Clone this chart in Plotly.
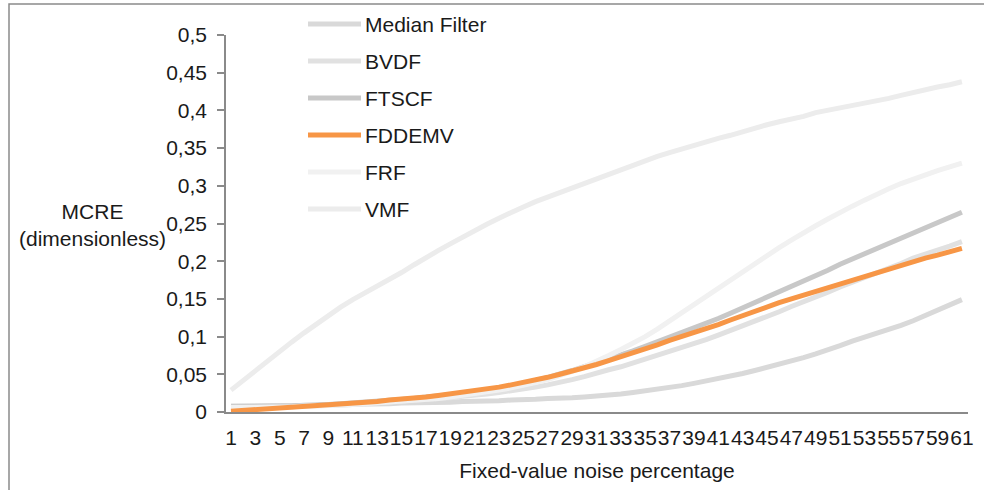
import plotly.graph_objects as go

# Fixed-value noise percentage (x categories)
noise_pct = list(range(1, 62))
tick_vals = list(range(1, 62, 2))
tick_text = [str(v) for v in tick_vals]

series_names = ["Median Filter", "BVDF", "FTSCF", "FDDEMV", "FRF", "VMF"]
series_colors = ["#d9d9d9", "#e1e1e1", "#c8c8c8", "#f79646", "#f1f1f1", "#ececec"]

median_filter = [
    0.008, 0.008, 0.008, 0.008, 0.009, 0.009, 0.009, 0.009, 0.010, 0.010,
    0.010, 0.011, 0.011, 0.011, 0.012, 0.012, 0.012, 0.013, 0.013, 0.014,
    0.014, 0.015, 0.015, 0.016, 0.016, 0.017, 0.018, 0.018, 0.019, 0.020,
    0.021, 0.023, 0.024, 0.026, 0.028, 0.030, 0.032, 0.035, 0.038, 0.041,
    0.044, 0.047, 0.051, 0.055, 0.059, 0.063, 0.067, 0.072, 0.077, 0.082,
    0.088, 0.094, 0.099, 0.104, 0.109, 0.115, 0.121, 0.128, 0.135, 0.142,
    0.149,
]
bvdf = [
    0.006, 0.006, 0.006, 0.007, 0.007, 0.007, 0.008, 0.008, 0.009, 0.009,
    0.010, 0.011, 0.012, 0.013, 0.014, 0.015, 0.016, 0.018, 0.019, 0.021,
    0.022, 0.024, 0.026, 0.028, 0.030, 0.033, 0.036, 0.039, 0.043, 0.047,
    0.052, 0.056, 0.060, 0.065, 0.070, 0.075, 0.081, 0.086, 0.091, 0.096,
    0.102, 0.108, 0.114, 0.120, 0.127, 0.133, 0.140, 0.146, 0.153, 0.159,
    0.166, 0.172, 0.179, 0.185, 0.191, 0.197, 0.204, 0.209, 0.214, 0.220,
    0.226,
]
ftscf = [
    0.007, 0.007, 0.007, 0.008, 0.008, 0.008, 0.009, 0.009, 0.010, 0.011,
    0.012, 0.013, 0.014, 0.015, 0.017, 0.018, 0.020, 0.021, 0.023, 0.025,
    0.027, 0.030, 0.032, 0.035, 0.038, 0.042, 0.046, 0.050, 0.055, 0.060,
    0.065, 0.070, 0.075, 0.081, 0.087, 0.093, 0.099, 0.105, 0.111, 0.118,
    0.124, 0.131, 0.138, 0.145, 0.152, 0.159, 0.166, 0.173, 0.180, 0.188,
    0.196, 0.203, 0.210, 0.217, 0.224, 0.231, 0.238, 0.245, 0.251, 0.258,
    0.265,
]
fddemv = [
    0.001, 0.002, 0.003, 0.004, 0.005, 0.006, 0.007, 0.008, 0.009, 0.010,
    0.011, 0.013, 0.014, 0.016, 0.017, 0.019, 0.020, 0.022, 0.024, 0.026,
    0.028, 0.031, 0.033, 0.036, 0.039, 0.042, 0.046, 0.050, 0.054, 0.058,
    0.063, 0.068, 0.073, 0.078, 0.084, 0.089, 0.095, 0.100, 0.105, 0.110,
    0.116, 0.122, 0.128, 0.134, 0.140, 0.145, 0.150, 0.155, 0.160, 0.165,
    0.170, 0.175, 0.180, 0.185, 0.189, 0.194, 0.199, 0.204, 0.208, 0.212,
    0.217,
]
frf = [
    0.006, 0.006, 0.006, 0.007, 0.007, 0.007, 0.008, 0.008, 0.009, 0.009,
    0.010, 0.011, 0.012, 0.013, 0.014, 0.015, 0.017, 0.018, 0.020, 0.022,
    0.024, 0.027, 0.029, 0.032, 0.035, 0.039, 0.043, 0.048, 0.054, 0.060,
    0.067, 0.075, 0.083, 0.091, 0.100, 0.110, 0.121, 0.132, 0.143, 0.154,
    0.165, 0.176, 0.187, 0.198, 0.208, 0.218, 0.228, 0.238, 0.247, 0.256,
    0.265, 0.273, 0.281, 0.289, 0.296, 0.303, 0.309, 0.315, 0.320, 0.325,
    0.330,
]
vmf = [
    0.029, 0.042, 0.055, 0.068, 0.082, 0.093, 0.105, 0.117, 0.128, 0.139,
    0.149, 0.158, 0.167, 0.175, 0.185, 0.195, 0.205, 0.214, 0.223, 0.232,
    0.240, 0.249, 0.257, 0.265, 0.272, 0.279, 0.285, 0.292, 0.298, 0.304,
    0.310, 0.316, 0.322, 0.328, 0.334, 0.339, 0.344, 0.349, 0.354, 0.358,
    0.363, 0.367, 0.372, 0.376, 0.381, 0.385, 0.388, 0.392, 0.397, 0.400,
    0.403, 0.407, 0.410, 0.413, 0.416, 0.420, 0.424, 0.427, 0.431, 0.434,
    0.438,
]
series_values = [median_filter, bvdf, ftscf, fddemv, frf, vmf]

# Canvas and plot-area geometry (pixels)
W, H = 984, 490
L, R, T, B = 226, 16, 35, 78
PW, PH = W - L - R, H - T - B
FONT = "Liberation Sans, Arial, Helvetica, sans-serif"
FS = 21
TEXT = "#1a1a1a"
AXIS_GREY = "#8a8a8a"


def px_x(px):
    return (px - L) / PW


def px_y(py):
    return (H - B - py) / PH


fig = go.Figure()
for name, color, vals in zip(series_names, series_colors, series_values):
    fig.add_trace(go.Scatter(
        x=noise_pct, y=vals, name=name, mode="lines",
        line=dict(color=color, width=5), showlegend=False,
    ))
# Keep the highlighted method above the grey curves
fig.data = fig.data[:3] + fig.data[4:] + (fig.data[3],)

shapes = []
annotations = []

# Legend block: line sample followed by the series name
for i, (name, color) in enumerate(zip(series_names, series_colors)):
    yc = px_y(24 + 37 * i)
    shapes.append(dict(
        type="line", xref="paper", yref="paper",
        x0=px_x(308), x1=px_x(361), y0=yc, y1=yc,
        line=dict(color=color, width=5),
    ))
    annotations.append(dict(
        xref="paper", yref="paper", x=px_x(363), y=yc,
        xanchor="left", yanchor="middle", showarrow=False,
        text=name, font=dict(size=FS, color=TEXT, family=FONT),
    ))

# Horizontal y-axis title
annotations.append(dict(
    xref="paper", yref="paper", x=px_x(92), y=px_y(225),
    xanchor="center", yanchor="middle", showarrow=False,
    text="MCRE<br>(dimensionless)", align="center",
    font=dict(size=FS, color=TEXT, family=FONT),
))

# Outer frame
shapes.append(dict(
    type="rect", xref="paper", yref="paper", layer="below",
    x0=px_x(9), x1=px_x(1010), y0=px_y(4), y1=px_y(520),
    line=dict(color=AXIS_GREY, width=1.5),
))

fig.update_layout(
    width=W, height=H,
    margin=dict(l=L, r=R, t=T, b=B, pad=0),
    paper_bgcolor="white", plot_bgcolor="white",
    separators=",.",
    font=dict(family=FONT, size=FS, color=TEXT),
    shapes=shapes, annotations=annotations,
    showlegend=False,
)
fig.update_xaxes(
    range=[0.59, 61.5], tickmode="array", tickvals=tick_vals, ticktext=tick_text,
    tickangle=0, automargin=False,
    ticks="", showline=True, linecolor=AXIS_GREY, linewidth=2,
    showgrid=False, zeroline=False, ticklabelstandoff=6,
    tickfont=dict(size=FS, color=TEXT),
    title=dict(text="Fixed-value noise percentage", standoff=15,
               font=dict(size=FS, color=TEXT)),
)
fig.update_yaxes(
    range=[0, 0.5], dtick=0.05, tick0=0, automargin=False,
    ticks="outside", ticklen=7, tickcolor=AXIS_GREY, tickwidth=1.5,
    showline=True, linecolor=AXIS_GREY, linewidth=1.5,
    showgrid=False, zeroline=False, ticklabelstandoff=6,
    tickfont=dict(size=FS, color=TEXT),
)

fig.write_html("out.html")
